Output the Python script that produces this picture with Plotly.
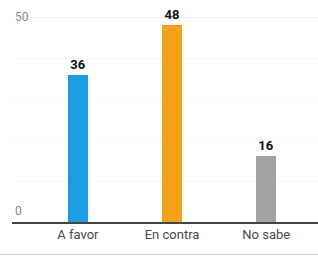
import plotly.graph_objects as go

categories = ["A favor", "En contra", "No sabe"]
values = [36, 48, 16]
colors = ["#1a9fe6", "#f5a11c", "#a3a3a3"]
y_ticks = [0, 50]

fig = go.Figure()
fig.add_trace(go.Bar(
    x=categories, y=values,
    marker=dict(color=colors, line=dict(width=0)),
    width=0.21,
    text=[str(v) for v in values],
    textposition="outside",
    textfont=dict(family="Roboto", size=13, color="#111111", weight="bold"),
    cliponaxis=False,
))

fig.update_layout(
    width=318, height=258,
    margin=dict(l=12, r=0, t=5, b=36),
    paper_bgcolor="white", plot_bgcolor="white",
    showlegend=False,
    bargap=0,
    uniformtext=dict(minsize=8, mode="show"),
)
fig.update_xaxes(
    range=[-0.7, 2.55],
    showline=True, linecolor="#444444", linewidth=1.5,
    ticks="", tickfont=dict(family="Roboto", size=13, color="#4a4a4a"),
    showgrid=False, automargin=False,
)
fig.update_yaxes(
    range=[0, 53],
    tickvals=y_ticks,
    showticklabels=False,
    showgrid=True, gridcolor="#ececec", gridwidth=1,
    zeroline=False, automargin=False,
    minor=dict(dtick=10, showgrid=True, gridcolor="#f6f6f6", gridwidth=1),
)
for v, anchor in zip(y_ticks, ["bottom", "middle"]):
    fig.add_annotation(x=0, xref="paper", y=v, yref="y", text=str(v), showarrow=False,
                       xanchor="left", yanchor=anchor, xshift=1, yshift=2 if anchor == "bottom" else 0,
                       font=dict(family="Roboto", size=12, color="#888888"),
                       bgcolor="white")
fig.add_shape(type="line", xref="paper", yref="paper", x0=-0.05, x1=1, y0=-0.15, y1=-0.15,
              line=dict(color="#cccccc", width=1))

fig.write_html("out.html", config={"displayModeBar": False},
               post_script="document.body.style.margin='0';document.body.style.overflow='hidden';")
